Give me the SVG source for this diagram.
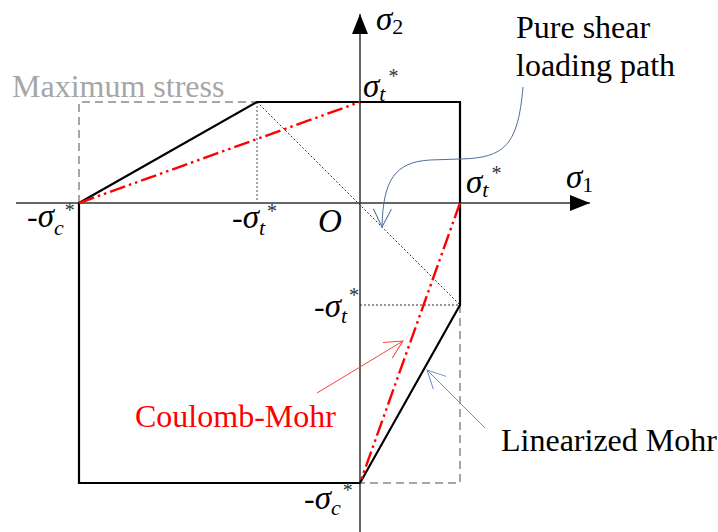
<svg xmlns="http://www.w3.org/2000/svg" width="718" height="532" viewBox="0 0 718 532">
<style>
text{font-family:"Liberation Serif","Times New Roman",serif;fill:#000}
.lbl{font-size:32px}
.sg{font-size:33px;font-style:italic}
.up{font-style:normal;font-size:32px}
.sub{font-size:22px;font-style:italic}
.num{font-size:22px;font-style:normal}
.ast{font-size:20px;font-style:normal;fill:#333}
.axis{stroke:#333;stroke-width:1.5;fill:none}
.env{stroke:#000;stroke-width:2.2;fill:none;stroke-linejoin:miter}
.maxs{stroke:#a6a6a6;stroke-width:2;stroke-dasharray:8,5;fill:none}
.cm{stroke:#ff0000;stroke-width:2.4;stroke-dasharray:16,4,2.5,4,2.5,4;fill:none}
.dot{stroke:#333;stroke-width:1;stroke-dasharray:2,2;fill:none}
.dotg{stroke:#777;stroke-width:1.3;stroke-dasharray:2,2;fill:none}
</style>
<defs>
<marker id="ah" markerUnits="userSpaceOnUse" viewBox="0 0 20 20" refX="20" refY="10" markerWidth="20" markerHeight="20" orient="auto"><polygon points="0,2 20,10 0,18" fill="#000"/></marker>
<marker id="openRed" markerUnits="userSpaceOnUse" viewBox="0 0 20 20" refX="19" refY="10" markerWidth="20" markerHeight="20" orient="auto"><path d="M1,1 L19,10 L1,19" fill="none" stroke="#ff4040" stroke-width="1"/></marker>
<marker id="openBlue" markerUnits="userSpaceOnUse" viewBox="0 0 20 20" refX="19" refY="10" markerWidth="20" markerHeight="20" orient="auto"><path d="M1,1 L19,10 L1,19" fill="none" stroke="#6b8fc4" stroke-width="1"/></marker>
<marker id="openDark" markerUnits="userSpaceOnUse" viewBox="0 0 20 20" refX="19" refY="10" markerWidth="20" markerHeight="20" orient="auto"><path d="M1,1 L19,10 L1,19" fill="none" stroke="#4f6e9a" stroke-width="1"/></marker>
</defs>

<g id="axes">
<line class="axis" x1="16" y1="203" x2="590" y2="203" marker-end="url(#ah)"/>
<line class="axis" x1="360" y1="532" x2="360" y2="14" marker-end="url(#ah)"/>
</g>

<g id="connectors">
<polyline class="maxs" points="79,203 79,102 257,102"/>
<polyline class="maxs" points="460,305 460,483 360,483"/>
<line class="dotg" x1="257" y1="102" x2="257" y2="203"/>
<line class="dot" x1="257" y1="102" x2="460" y2="305"/>
<line class="dot" x1="360" y1="305" x2="460" y2="305"/>
<polygon id="linearized-mohr-envelope" class="env" points="79,203 257,102 460,102 460,305 360,483 79,483"/>
<line class="cm" x1="79" y1="203" x2="360" y2="102"/>
<line class="cm" x1="460" y1="203" x2="360" y2="483"/>
<line x1="317" y1="393" x2="403" y2="341" stroke="#ff4040" stroke-width="1" marker-end="url(#openRed)"/>
<line x1="485" y1="428" x2="427" y2="370" stroke="#6b8fc4" stroke-width="1" marker-end="url(#openBlue)"/>
<path d="M523,87 C518,145 505,158 460,159 L430,160 C395,162 383,180 382,227" stroke="#4f6e9a" stroke-width="1" fill="none" marker-end="url(#openDark)"/>
</g>

<g id="label-max-stress"><text class="lbl" x="12" y="97" style="fill:#a6a6a6">Maximum stress</text></g>
<g id="label-pure-shear"><text class="lbl" x="516" y="38">Pure shear</text><text class="lbl" x="516" y="76">loading path</text></g>
<g id="label-coulomb-mohr"><text class="lbl" x="135" y="427" style="fill:#ff0000">Coulomb-Mohr</text></g>
<g id="label-linearized-mohr"><text class="lbl" x="501" y="451">Linearized Mohr</text></g>

<g id="axis-labels">
<text class="sg" x="376" y="30">σ<tspan class="num" dy="4">2</tspan></text>
<text class="sg" x="566" y="188">σ<tspan class="num" dy="4">1</tspan></text>
<text class="sg" x="318" y="232">O</text>
</g>

<g id="tick-labels">
<text class="sg" x="363" y="97">σ<tspan class="sub" dy="4">t</tspan><tspan class="ast" dx="3" dy="-18">*</tspan></text>
<text class="sg" x="466" y="193">σ<tspan class="sub" dy="4">t</tspan><tspan class="ast" dx="3" dy="-17">*</tspan></text>
<text class="sg" x="232" y="228"><tspan class="up">-</tspan>σ<tspan class="sub" dy="7">t</tspan><tspan class="ast" dx="2" dy="-17">*</tspan></text>
<text class="sg" x="27" y="227"><tspan class="up">-</tspan>σ<tspan class="sub" dy="8">c</tspan><tspan class="ast" dx="1" dy="-18">*</tspan></text>
<text class="sg" x="314" y="317"><tspan class="up">-</tspan>σ<tspan class="sub" dy="6">t</tspan><tspan class="ast" dx="2" dy="-21">*</tspan></text>
<text class="sg" x="304" y="509"><tspan class="up">-</tspan>σ<tspan class="sub" dy="6">c</tspan><tspan class="ast" dx="2" dy="-18">*</tspan></text>
</g>
</svg>
